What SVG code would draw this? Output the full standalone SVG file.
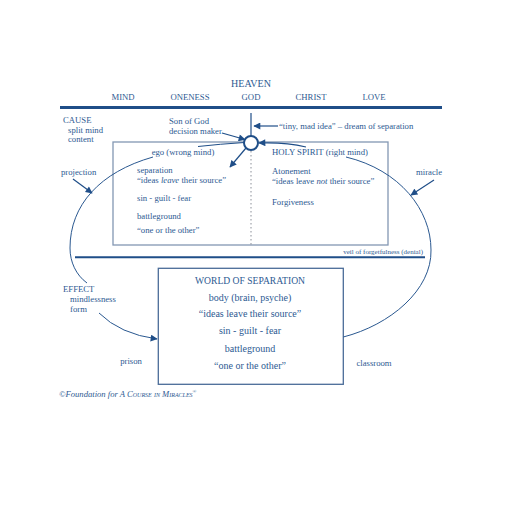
<svg xmlns="http://www.w3.org/2000/svg" width="510" height="510" viewBox="0 0 510 510">
<style>
text{font-family:"Liberation Serif","Times New Roman",serif;fill:#2d5a92;font-size:8.7px}
.c{text-anchor:middle}
.w{font-size:10px}
.line{stroke:#1f4e88;fill:none}
.thin{stroke:#2a5890;stroke-width:1;fill:none}
</style>
<defs>
<marker id="ah" viewBox="0 0 10 10" refX="9" refY="5" markerWidth="8" markerHeight="7" markerUnits="userSpaceOnUse" orient="auto">
<path d="M0,0 L10,5 L0,10 Z" fill="#1f4e88"/>
</marker>
</defs>
<rect width="510" height="510" fill="#fff"/>
<g id="heaven">
<text class="c" x="251" y="87" style="font-size:10px">HEAVEN</text>
<text class="c" x="123" y="100">MIND</text>
<text class="c" x="190" y="100">ONENESS</text>
<text class="c" x="251" y="100">GOD</text>
<text class="c" x="311" y="100">CHRIST</text>
<text class="c" x="374" y="100">LOVE</text>
<line class="line" x1="60" y1="107.5" x2="442" y2="107.5" stroke-width="3"/>
</g>
<g id="cause">
<text x="63" y="123">CAUSE</text>
<text x="68" y="133">split mind</text>
<text x="68" y="142">content</text>
</g>
<g id="son-of-god">
<text x="169" y="124">Son of God</text>
<text x="169" y="134">decision maker</text>
</g>
<g id="tiny-mad-idea">
<text x="279" y="128.5">“tiny, mad idea” – dream of separation</text>
</g>
<g id="split-mind-box">
<rect x="113" y="142" width="275" height="103" fill="none" stroke="#8397b3" stroke-width="1.3"/>
<line x1="251" y1="151" x2="251" y2="245" stroke="#8a8f98" stroke-width="1" stroke-dasharray="1.5,2.5"/>
</g>
<g id="ego">
<text class="c" x="183" y="155">ego (wrong mind)</text>
<text x="137" y="173">separation</text>
<text x="137" y="183">“ideas <tspan font-style="italic">leave</tspan> their source”</text>
<text x="137" y="201">sin - guilt - fear</text>
<text x="137" y="218.5">battleground</text>
<text x="137" y="233">“one or the other”</text>
</g>
<g id="holy-spirit">
<text x="272" y="155">HOLY SPIRIT (right mind)</text>
<text x="272" y="174">Atonement</text>
<text x="272" y="184">“ideas leave <tspan font-style="italic">not</tspan> their source”</text>
<text x="272" y="205">Forgiveness</text>
</g>
<g id="decision-circle">
<circle cx="251" cy="143" r="7" fill="#fff" stroke="#1f4e88" stroke-width="2"/>
</g>
<g id="labels">
<text x="61" y="175">projection</text>
<text x="416" y="175">miracle</text>
<text x="423" y="254" text-anchor="end" style="font-size:7px">veil of forgetfulness (denial)</text>
<text x="63" y="292">EFFECT</text>
<text x="70" y="302">mindlessness</text>
<text x="70" y="312">form</text>
<text class="c" x="131" y="364">prison</text>
<text class="c" x="374" y="366">classroom</text>
</g>
<g id="veil">
<line class="line" x1="75" y1="257.3" x2="425" y2="257.3" stroke-width="2"/>
</g>
<g id="world-box">
<rect x="158.3" y="268.3" width="185" height="116" fill="none" stroke="#4a6c98" stroke-width="1.3"/>
<text class="c w" x="250" y="283.5" style="font-size:9.6px">WORLD OF SEPARATION</text>
<text class="c w" x="250" y="301">body (brain, psyche)</text>
<text class="c w" x="250" y="317">“ideas leave their source”</text>
<text class="c w" x="250" y="334">sin - guilt - fear</text>
<text class="c w" x="250" y="351.5">battleground</text>
<text class="c w" x="250" y="369">“one or the other”</text>
</g>
<g id="copyright">
<text x="59" y="397" font-style="italic" style="font-size:8.6px">©Foundation for A <tspan font-variant="small-caps">Course in Miracles</tspan><tspan dy="-4" style="font-size:5px">®</tspan></text>
</g>
<g id="connectors">
<line class="line" x1="251" y1="113" x2="251" y2="136" stroke-width="1.2"/>
<line class="line" x1="278" y1="126" x2="254" y2="126" stroke-width="1.2" marker-end="url(#ah)"/>
<line class="line" x1="222" y1="133" x2="245" y2="139.5" stroke-width="1.2" marker-end="url(#ah)"/>
<path class="line" d="M306,147 Q285,142 259,143" stroke-width="1.2" marker-end="url(#ah)"/>
<line class="line" x1="246" y1="148" x2="230" y2="167" stroke-width="1.2" marker-end="url(#ah)"/>
<path class="line" d="M244.5,142.5 Q220,144 198,146.5" stroke-width="1"/>
<path class="thin" d="M153,157 C100,172 70,205 70,248 C70,262 76,275 87,283"/>
<path class="thin" d="M346,157 C400,170 431,210 431,250 C432,290 390,325 343.3,337"/>
<line class="line" x1="73" y1="179" x2="92" y2="193" stroke-width="1.2" marker-end="url(#ah)"/>
<line class="line" x1="434" y1="180" x2="411" y2="195" stroke-width="1.2" marker-end="url(#ah)"/>
<path class="thin" d="M99,313 Q120,334 157,339" marker-end="url(#ah)"/>
</g>
</svg>
